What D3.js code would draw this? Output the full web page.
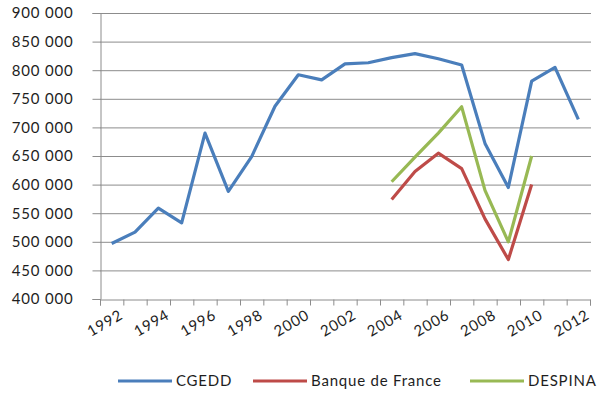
<!DOCTYPE html>
<html>
<head>
<meta charset="utf-8">
<script src="https://cdn.jsdelivr.net/npm/d3@7"></script>
<style>
  body { margin: 0; background: #fff; }
  svg { display: block; font-family: Lato, "Open Sans", sans-serif; }
  text { letter-spacing: 0.8px; }
</style>
</head>
<body>
<svg id="chart" width="600" height="393"></svg>
<script>
const years = d3.range(1992, 2013);
const yTicks = [400000, 450000, 500000, 550000, 600000, 650000, 700000, 750000, 800000, 850000, 900000];
const xLabels = [1992, 1994, 1996, 1998, 2000, 2002, 2004, 2006, 2008, 2010, 2012];

const cgedd = [497000, 517000, 559000, 533000, 690000, 588000, 649000, 737000, 792000, 783000,
  811000, 813000, 822000, 829000, 820000, 809000, 672000, 595000, 781000, 805000, 714000];
const bdfYears = [2004, 2005, 2006, 2007, 2008, 2009, 2010];
const bdf = [574000, 623000, 655000, 628000, 540000, 469000, 600000];
const despinaYears = [2004, 2005, 2006, 2007, 2008, 2009, 2010];
const despina = [605000, 648000, 690000, 736000, 590000, 500000, 650000];

const series = [
  { name: 'CGEDD', color: '#4a7ebb', pts: years.map((y, i) => [y, cgedd[i]]) },
  { name: 'Banque de France', color: '#be4b48', pts: bdfYears.map((y, i) => [y, bdf[i]]) },
  { name: 'DESPINA', color: '#98b954', pts: despinaYears.map((y, i) => [y, despina[i]]) }
];

const svg = d3.select('#chart');
const plotL = 100, plotR = 590, plotT = 13, plotB = 299;

const x = d3.scaleLinear().domain([1991.5, 2012.5]).range([plotL, plotR]);
const y = d3.scaleLinear().domain([400000, 900000]).range([plotB, plotT]);
const fr = d3.formatLocale({ decimal: ',', thousands: ' ', grouping: [3], currency: ['', ' €'] });
const fmt = fr.format(',');

// gridlines
svg.append('g')
  .selectAll('line')
  .data(yTicks.slice(1))
  .join('line')
  .attr('x1', plotL).attr('x2', plotR + 1)
  .attr('y1', d => y(d) + 0.5).attr('y2', d => y(d) + 0.5)
  .attr('stroke', '#8c8c8c').attr('stroke-width', 1);

// y axis
const yAxis = svg.append('g')
  .attr('transform', `translate(${plotL + 0.5},0)`)
  .call(d3.axisLeft(y).tickValues(yTicks).tickSize(8).tickFormat(fmt));
yAxis.select('.domain').attr('stroke', '#8c8c8c');
yAxis.selectAll('.tick line').attr('stroke', '#8c8c8c');
yAxis.selectAll('.tick text')
  .attr('x', -27)
  .attr('fill', '#1e1e1e')
  .style('font-size', '15px')
  .style('font-family', 'Lato, sans-serif');
yAxis.selectAll('.tick').attr('transform', d => `translate(0,${y(d) + 0.5})`);

// x axis (ticks between categories)
const xAxis = svg.append('g')
  .attr('transform', `translate(0,${plotB + 0.5})`)
  .call(d3.axisBottom(x).tickValues(d3.range(1991.5, 2013, 1)).tickSize(6).tickFormat(''));
xAxis.select('.domain').attr('stroke', '#8c8c8c');
xAxis.selectAll('.tick line').attr('stroke', '#8c8c8c');

svg.append('g')
  .selectAll('text')
  .data(xLabels)
  .join('text')
  .attr('transform', d => `translate(${x(d) + 7},${plotB + 10}) rotate(-30)`)
  .attr('text-anchor', 'end')
  .attr('dy', '0.7em')
  .attr('fill', '#1e1e1e')
  .style('font-size', '15px')
  .text(d => d);

// lines
const line = d3.line().x(d => x(d[0])).y(d => y(d[1]));
svg.append('g')
  .selectAll('path')
  .data(series)
  .join('path')
  .attr('d', d => line(d.pts))
  .attr('fill', 'none')
  .attr('stroke', d => d.color)
  .attr('stroke-width', 3.2)
  .attr('stroke-linejoin', 'round');

// legend
const legendX = [118, 253, 470];
const lg = svg.append('g')
  .selectAll('g')
  .data(series)
  .join('g')
  .attr('transform', (d, i) => `translate(${legendX[i]},381)`);
lg.append('line')
  .attr('x1', 0).attr('x2', 54)
  .attr('stroke', d => d.color)
  .attr('stroke-width', 3.2);
lg.append('text')
  .attr('x', 58)
  .attr('dy', '0.35em')
  .attr('fill', '#1e1e1e')
  .style('font-size', '15px')
  .text(d => d.name);
</script>
</body>
</html>
